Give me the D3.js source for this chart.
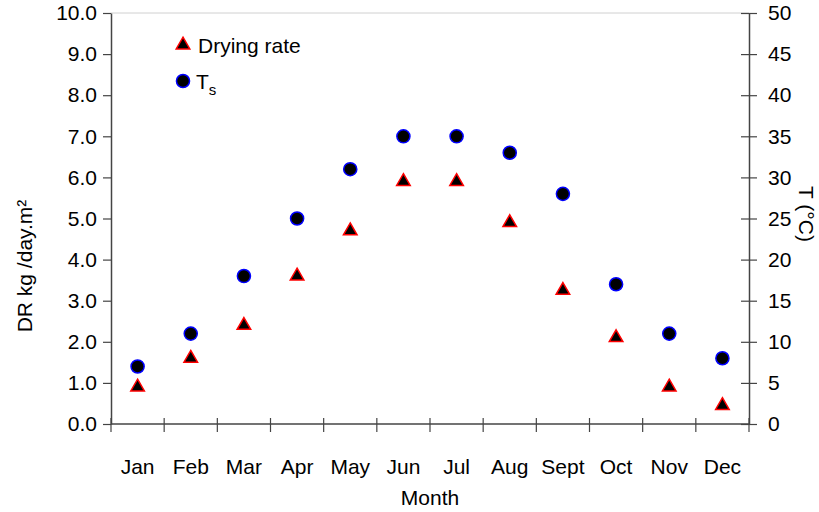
<!DOCTYPE html>
<html>
<head>
<meta charset="utf-8">
<script src="https://cdn.jsdelivr.net/npm/d3@7"></script>
<style>
  html, body { margin: 0; padding: 0; background: #fff; }
  svg { display: block; font-family: "Liberation Sans", Arial, sans-serif; }
</style>
</head>
<body>
<svg id="chart" width="819" height="512"></svg>
<script>
// Monthly drying rate (kg/day.m²) and surface temperature (°C)
const months = ["Jan", "Feb", "Mar", "Apr", "May", "Jun", "Jul", "Aug", "Sept", "Oct", "Nov", "Dec"];
const dryingRate = [0.9, 1.6, 2.4, 3.6, 4.7, 5.9, 5.9, 4.9, 3.25, 2.1, 0.9, 0.45];
const surfaceTemp = [7, 11, 18, 25, 31, 35, 35, 33, 28, 17, 11, 8];
const leftTicks = [0, 1, 2, 3, 4, 5, 6, 7, 8, 9, 10];
const rightTicks = [0, 5, 10, 15, 20, 25, 30, 35, 40, 45, 50];

const svg = d3.select("#chart");
const plotLeft = 111, plotRight = 749, plotTop = 13, plotBottom = 424;
const axisColor = "#444";
const fs = 21;

const x = d3.scaleBand().domain(months).range([plotLeft, plotRight]).padding(0);
const yL = d3.scaleLinear().domain([0, 10]).range([plotBottom, plotTop]);
const yR = d3.scaleLinear().domain([0, 50]).range([plotBottom, plotTop]);

// light frame line along the top
svg.append("line")
  .attr("x1", plotLeft).attr("x2", plotRight).attr("y1", plotTop).attr("y2", plotTop)
  .attr("stroke", "#d0d0d0").attr("stroke-width", 1);

// left axis
const gL = svg.append("g").attr("transform", `translate(${plotLeft},0)`)
  .call(d3.axisLeft(yL).tickValues(leftTicks).tickFormat(d3.format(".1f"))
    .tickSize(8).tickSizeOuter(0).tickPadding(6));
gL.select(".domain").attr("stroke", axisColor).attr("stroke-width", 1.5);
gL.selectAll(".tick line").attr("stroke", axisColor).attr("stroke-width", 1.2);
gL.selectAll(".tick text").attr("font-size", fs).attr("fill", "#000")
  .attr("font-family", "Liberation Sans, Arial, sans-serif");

// right axis, ticks crossing the line
const gR = svg.append("g").attr("transform", `translate(${plotRight},0)`)
  .call(d3.axisRight(yR).tickValues(rightTicks).tickFormat(d3.format("d"))
    .tickSize(8).tickSizeOuter(0).tickPadding(11));
gR.select(".domain").attr("stroke", axisColor).attr("stroke-width", 1.5);
gR.selectAll(".tick line").attr("x1", -8).attr("stroke", axisColor).attr("stroke-width", 1.2);
gR.selectAll(".tick text").attr("font-size", fs).attr("fill", "#000")
  .attr("font-family", "Liberation Sans, Arial, sans-serif");

// bottom axis: boundary ticks crossing the line, month labels centred in bands
const edges = months.map(m => x(m)).concat([plotRight]);
const gX = svg.append("g");
gX.append("line")
  .attr("x1", plotLeft).attr("x2", plotRight).attr("y1", plotBottom).attr("y2", plotBottom)
  .attr("stroke", axisColor).attr("stroke-width", 1.5);
gX.selectAll("line.tick").data(edges).join("line").attr("class", "tick")
  .attr("x1", d => d).attr("x2", d => d)
  .attr("y1", plotBottom - 6).attr("y2", plotBottom + 8)
  .attr("stroke", axisColor).attr("stroke-width", 1.2);
gX.selectAll("text").data(months).join("text")
  .attr("x", d => x(d) + x.bandwidth() / 2)
  .attr("y", 474)
  .attr("text-anchor", "middle")
  .attr("font-size", fs)
  .text(d => d);

// axis titles
svg.append("text").attr("x", (plotLeft + plotRight) / 2).attr("y", 505)
  .attr("text-anchor", "middle").attr("font-size", fs).text("Month");
svg.append("text").attr("transform", "translate(32,266) rotate(-90)")
  .attr("text-anchor", "middle").attr("font-size", fs).text("DR kg /day.m²");
svg.append("text").attr("transform", "translate(799,214) rotate(90)")
  .attr("text-anchor", "middle").attr("font-size", fs).text("T (°C)");

const tri = d3.symbol().type(d3.symbolTriangle).size(80);
const dot = d3.symbol().type(d3.symbolCircle).size(135);

// surface temperature points
svg.append("g").selectAll("path").data(surfaceTemp).join("path")
  .attr("d", dot)
  .attr("transform", (d, i) => `translate(${x(months[i]) + x.bandwidth() / 2},${yR(d)})`)
  .attr("fill", "#000").attr("stroke", "#0000ff").attr("stroke-width", 1.5);

// drying rate points
svg.append("g").selectAll("path").data(dryingRate).join("path")
  .attr("d", tri)
  .attr("transform", (d, i) => `translate(${x(months[i]) + x.bandwidth() / 2},${yL(d)})`)
  .attr("fill", "#000").attr("stroke", "#ff0000").attr("stroke-width", 1.5);

// legend
const lg = svg.append("g");
lg.append("path").attr("d", tri).attr("transform", "translate(183,45)")
  .attr("fill", "#000").attr("stroke", "#ff0000").attr("stroke-width", 1.5);
lg.append("text").attr("x", 198).attr("y", 53).attr("font-size", fs).text("Drying rate");
lg.append("path").attr("d", dot).attr("transform", "translate(183,81)")
  .attr("fill", "#000").attr("stroke", "#0000ff").attr("stroke-width", 1.5);
const ts = lg.append("text").attr("x", 196).attr("y", 89).attr("font-size", fs);
ts.append("tspan").text("T");
ts.append("tspan").attr("dy", 6).attr("font-size", 15).text("s");
</script>
</body>
</html>
